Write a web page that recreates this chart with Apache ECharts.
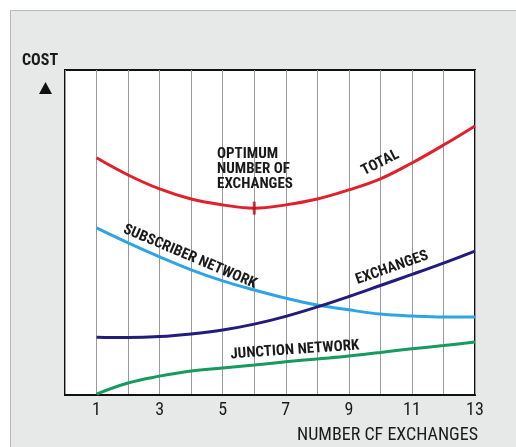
<!DOCTYPE html>
<html>
<head>
<meta charset="utf-8">
<style>
  html, body { margin: 0; padding: 0; background: #ffffff; }
  #chart { width: 516px; height: 447px; }
</style>
<script src="https://cdn.jsdelivr.net/npm/echarts@6/dist/echarts.min.js"></script>
</head>
<body>
<div id="chart"></div>
<script>
// Number of exchanges along the horizontal axis
const exchangeCounts = [1, 2, 3, 4, 5, 6, 7, 8, 9, 10, 11, 12, 13];
// Tick labels shown under the axis
const tickLabels = ['1', '3', '5', '7', '9', '11', '13'];

// Relative cost curves (arbitrary units, 0-100)
const totalCost      = [73.0, 67.7, 63.4, 60.3, 58.5, 57.5, 58.5, 60.3, 63.1, 66.5, 71.4, 76.9, 82.8];
const subscriberCost = [51.4, 46.8, 42.5, 38.5, 35.1, 32.3, 29.8, 27.7, 26.2, 24.9, 24.3, 24.0, 24.0];
const exchangeCost   = [17.8, 17.7, 18.0, 18.8, 20.0, 21.8, 24.2, 27.1, 30.3, 33.7, 37.1, 40.6, 44.3];
const junctionCost   = [0.3, 3.7, 5.8, 7.4, 8.3, 9.2, 10.2, 11.1, 12.0, 13.1, 14.2, 15.2, 16.3];

// Optimum point on the total curve
const optimumCount = 6;
const optimumCost = 57.5;

const FONT = "'Roboto Condensed', 'Open Sans Condensed', sans-serif";

const pair = (ys) => exchangeCounts.map((x, i) => [x, ys[i]]);

const chart = echarts.init(document.getElementById('chart'), null, { renderer: 'canvas' });

function lineSeries(name, ys, color) {
  return {
    name: name,
    type: 'line',
    data: pair(ys),
    smooth: 0.4,
    showSymbol: false,
    lineStyle: { color: color, width: 3 },
    z: 3,
    silent: true
  };
}

const option = {
  backgroundColor: 'transparent',
  animation: false,
  grid: {
    left: 65, top: 70, width: 410, height: 325,
    show: true, backgroundColor: '#ffffff',
    borderColor: '#111111', borderWidth: 2
  },
  xAxis: {
    type: 'value', min: 0, max: 13, interval: 1,
    axisLine: { show: true, lineStyle: { color: '#111111', width: 2 } },
    axisTick: { show: false },
    splitLine: { show: true, lineStyle: { color: '#9a9a9a', width: 1 } },
    axisLabel: {
      margin: 6,
      color: '#1a1a1a',
      fontFamily: FONT,
      fontSize: 18,
      formatter: (v) => tickLabels.includes(String(v)) ? String(v) : ''
    }
  },
  yAxis: {
    type: 'value', min: 0, max: 100,
    axisLine: { show: false },
    axisTick: { show: false },
    axisLabel: { show: false },
    splitLine: { show: false }
  },
  series: [
    lineSeries('Total', totalCost, '#e0202b'),
    lineSeries('Subscriber network', subscriberCost, '#2fa4e4'),
    lineSeries('Exchanges', exchangeCost, '#241c7c'),
    lineSeries('Junction network', junctionCost, '#179a5e'),
    {
      name: 'Optimum',
      type: 'scatter',
      data: [[optimumCount, optimumCost]],
      symbol: 'rect',
      symbolSize: [3, 13],
      itemStyle: { color: '#b3101c' },
      z: 4,
      silent: true
    }
  ]
};

chart.setOption(option);

// Text annotations placed in data space
function at(x, y) { return chart.convertToPixel({ gridIndex: 0 }, [x, y]); }

const notes = [
  { text: 'OPTIMUM\nNUMBER OF\nEXCHANGES', pos: [4.82, 76.3], rot: 0, align: 'left', vAlign: 'top', lh: 15 },
  { text: 'TOTAL', pos: [10.0, 71.4], rot: 0.47, align: 'center', vAlign: 'middle' },
  { text: 'SUBSCRIBER NETWORK', pos: [3.96, 42.5], rot: -0.4, align: 'center', vAlign: 'middle' },
  { text: 'EXCHANGES', pos: [10.37, 39.1], rot: 0.34, align: 'center', vAlign: 'middle' },
  { text: 'JUNCTION NETWORK', pos: [7.29, 13.8], rot: 0.07, align: 'center', vAlign: 'middle' }
];

const graphics = [
  // surrounding panel
  {
    type: 'rect', z: -10, silent: true,
    shape: { x: 10.5, y: 10.5, width: 520, height: 450 },
    style: { fill: '#e7e9e9', stroke: '#b9bcbc', lineWidth: 1 }
  },
  // axis title and arrow
  {
    type: 'text', left: 22, top: 53, silent: true,
    style: { text: 'COST', fill: '#1a1a1a', font: 'bold 16px ' + FONT }
  },
  {
    type: 'polygon', silent: true,
    shape: { points: [[45.5, 82], [39, 94], [52, 94]] },
    style: { fill: '#111111' }
  },
  {
    type: 'text', silent: true,
    x: 478, y: 435,
    style: {
      text: 'NUMBER CF EXCHANGES', fill: '#1a1a1a',
      font: '18px ' + FONT, textAlign: 'right', textVerticalAlign: 'middle'
    }
  }
];

notes.forEach((n) => {
  const p = at(n.pos[0], n.pos[1]);
  graphics.push({
    type: 'text', silent: true, z: 5,
    x: p[0], y: p[1], rotation: n.rot,
    style: {
      text: n.text, fill: '#1a1a1a',
      font: 'bold 15px ' + FONT,
      lineHeight: n.lh || 16,
      textAlign: n.align, textVerticalAlign: n.vAlign
    }
  });
});

chart.setOption({ graphic: graphics });
</script>
</body>
</html>
